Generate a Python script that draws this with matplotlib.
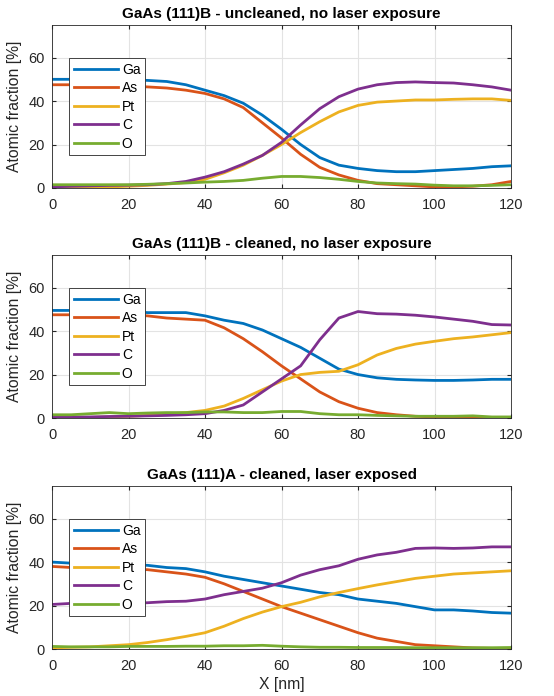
import numpy as np
import matplotlib
matplotlib.use("Agg")
import matplotlib.pyplot as plt

plt.rcParams['font.family'] = ['Liberation Sans', 'DejaVu Sans']

# depth positions (nm)
x_nm = np.arange(0, 121, 5)

elements = ["Ga", "As", "Pt", "C", "O"]
colors = ["#0072BD", "#D95319", "#EDB120", "#7E2F8E", "#77AC30"]

titles = [
    "GaAs (111)B - uncleaned, no laser exposure",
    "GaAs (111)B - cleaned, no laser exposure",
    "GaAs (111)A - cleaned, laser exposed",
]

# --- panel 1: (111)B uncleaned
ga_1 = [50, 50, 50, 50, 49.8, 49.5, 49, 47.5, 45, 42.5, 39, 33.5, 27, 20, 14, 10.5, 9, 8, 7.5, 7.5, 8, 8.5, 9, 9.8, 10.2]
as_1 = [47.5, 47.5, 47.5, 47.3, 47, 46.5, 46, 45, 43.5, 41, 37, 30, 23, 15.5, 9.5, 6, 3.5, 2, 1.5, 1, 0.5, 0.5, 0.8, 1.5, 3]
pt_1 = [0, 0, 0.2, 0.5, 0.8, 1.2, 1.8, 2.5, 4, 7, 10.5, 15, 20, 25.5, 30.5, 35, 38, 39.5, 40, 40.5, 40.5, 40.8, 41, 41, 40.3]
c_1 = [0.5, 0.8, 1, 1.2, 1.3, 1.5, 2, 3, 5, 7.5, 11, 15, 21, 29, 36.5, 42, 45.5, 47.5, 48.5, 48.8, 48.5, 48.3, 47.5, 46.5, 45]
o_1 = [1.5, 1.5, 1.5, 1.5, 1.5, 1.7, 2, 2.3, 2.7, 3, 3.5, 4.5, 5.3, 5.3, 4.8, 4, 3, 2.3, 2, 1.8, 1.3, 1, 1, 1.2, 1.5]

# --- panel 2: (111)B cleaned
ga_2 = [49.5, 49.5, 49.5, 49.3, 49, 48.5, 48.5, 48.5, 47, 45, 43.5, 40.5, 36.5, 32.5, 27.5, 22.5, 20, 18.5, 17.8, 17.5, 17.3, 17.3, 17.5, 17.8, 17.8]
as_2 = [47.5, 47.5, 47.5, 47.5, 47.5, 47, 46, 45.5, 45, 41.5, 36.5, 30.5, 24, 18, 12, 7.5, 4.5, 2.5, 1.5, 0.8, 0.5, 0.3, 0.2, 0.2, 0]
pt_2 = [0, 0.1, 0.3, 0.5, 0.8, 1.2, 1.8, 2.5, 3.5, 5.5, 9, 13, 17, 20, 21, 21.5, 24.5, 29, 32, 34, 35.3, 36.5, 37.3, 38.3, 39.3]
c_2 = [0.5, 0.5, 0.5, 0.7, 0.8, 1, 1.2, 1.5, 2, 3.5, 6, 12, 18, 24, 36, 46, 49, 48, 47.8, 47.3, 46.5, 45.5, 44.5, 43, 42.8]
o_2 = [1.5, 1.5, 2, 2.5, 2, 2.3, 2.5, 2.5, 2.8, 2.8, 2.5, 2.5, 3, 3, 2, 1.5, 1.5, 1.2, 1, 0.8, 0.8, 0.8, 1, 0.5, 0.5]

# --- panel 3: (111)A cleaned, laser exposed
ga_3 = [40, 39.5, 39.5, 39.3, 39, 38.5, 37.5, 37, 35.5, 33.5, 32, 30.5, 29, 27.5, 26, 25, 23, 22, 21, 19.5, 18, 18, 17.5, 16.8, 16.5]
as_3 = [38, 37.5, 37.3, 37, 36.8, 36.5, 35.5, 34.5, 33, 30, 26.5, 23, 19.5, 16.5, 13.5, 10.5, 7.5, 5, 3.5, 2, 1.5, 1, 0.5, 0.3, 0]
pt_3 = [0.5, 0.8, 1, 1.5, 2, 3, 4.3, 5.8, 7.5, 10.5, 14, 17, 19.5, 21.5, 24, 26, 27.8, 29.5, 31, 32.5, 33.5, 34.5, 35, 35.5, 36]
c_3 = [20.5, 21, 21, 21, 21, 21.3, 21.8, 22, 23, 25, 26.5, 28, 30.5, 34, 36.5, 38.3, 41.3, 43.3, 44.5, 46.3, 46.5, 46.3, 46.5, 47, 47]
o_3 = [1.2, 1, 1, 1, 1.2, 1.2, 1.2, 1.3, 1.3, 1.5, 1.5, 1.7, 1.3, 1, 0.8, 0.8, 0.7, 0.7, 0.7, 0.6, 0.6, 0.6, 0.6, 0.6, 0.7]

panels = [
    [ga_1, as_1, pt_1, c_1, o_1],
    [ga_2, as_2, pt_2, c_2, o_2],
    [ga_3, as_3, pt_3, c_3, o_3],
]

fig = plt.figure(figsize=(5.54, 6.96), dpi=100)
bottoms = [0.7299, 0.3994, 0.0675]

for k, series in enumerate(panels):
    ax = fig.add_axes([0.0939, bottoms[k], 0.8285, 0.2342])
    for name, vals, col in zip(elements, series, colors):
        ax.plot(x_nm, vals, color=col, lw=2, label=name, solid_joinstyle="round")
    ax.set_xlim(0, 120)
    ax.set_ylim(0, 75)
    ax.set_xticks(np.arange(0, 121, 20))
    ax.set_yticks([0, 20, 40, 60])
    ax.grid(True, color="#e3e3e3", lw=0.8)
    ax.set_axisbelow(True)
    ax.tick_params(direction="in", top=True, right=True, labelsize=10.5,
                   colors="#262626", length=3, pad=5)
    ax.tick_params(axis="x", pad=7)
    for sp in ax.spines.values():
        sp.set_color("#262626")
        sp.set_linewidth(0.6)
    ax.set_title(titles[k], fontsize=11, fontweight="bold", pad=5)
    ax.set_ylabel("Atomic fraction [%]", fontsize=11.3, color="#262626", labelpad=5)
    leg = ax.legend(loc="upper left", bbox_to_anchor=(0.037, 0.798), fontsize=10,
                    handlelength=3.2, handletextpad=0.25, borderpad=0.35,
                    labelspacing=0.32, borderaxespad=0, fancybox=False, framealpha=1)
    leg.get_frame().set_edgecolor("#262626")
    leg.get_frame().set_linewidth(0.6)
    if k == 2:
        ax.set_xlabel("X [nm]", fontsize=11.3, color="#262626", labelpad=3)

fig.savefig("out.png", dpi=100)
